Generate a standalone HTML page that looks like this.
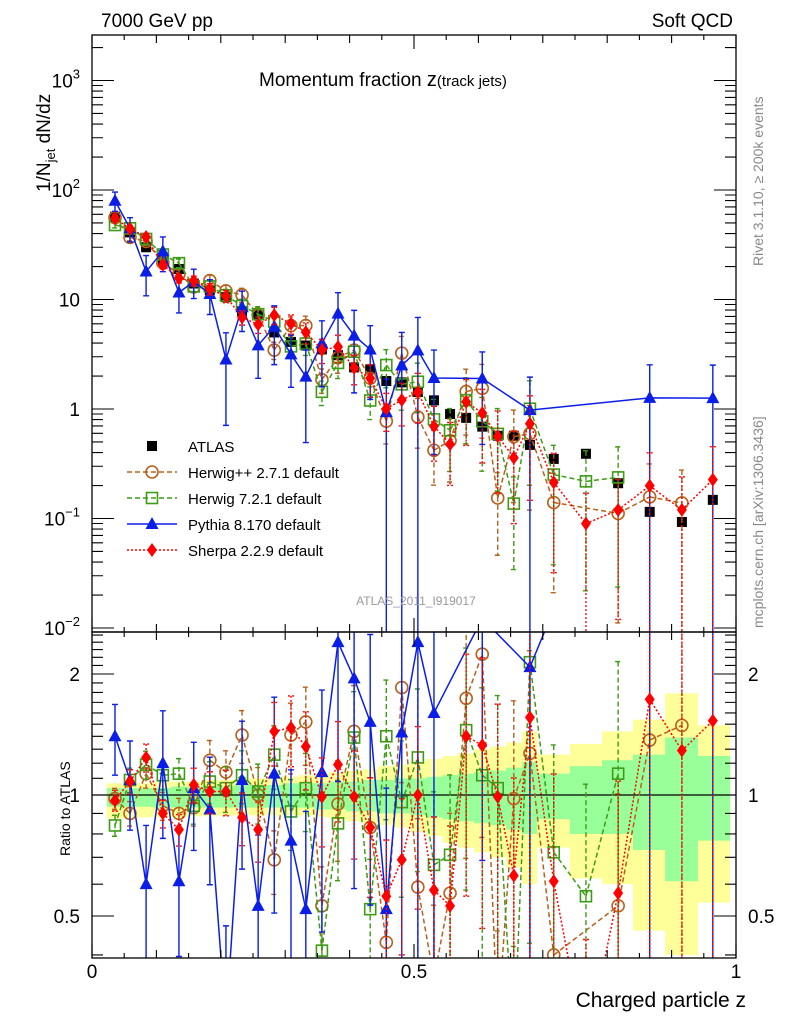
<!DOCTYPE html>
<html><head><meta charset="utf-8">
<style>
html,body{margin:0;padding:0;background:#fff;width:786px;height:1024px;overflow:hidden;}
svg{display:block;font-family:"Liberation Sans",sans-serif;}
</style></head>
<body>
<svg id="chart" width="786" height="1024" viewBox="0 0 786 1024" xmlns="http://www.w3.org/2000/svg" overflow="hidden">
<defs>
<clipPath id="clipMain"><rect x="92" y="35" width="644" height="597"/></clipPath>
<clipPath id="clipRatio"><rect x="92" y="632" width="644" height="326"/></clipPath>
</defs>
<rect x="0" y="0" width="786" height="1024" fill="#fff"/>
<g id="ratioBands" clip-path="url(#clipRatio)"></g>
<g id="mainData" clip-path="url(#clipMain)"></g>
<g id="ratioData" clip-path="url(#clipRatio)"></g>
<g id="axes"></g>
<text x="101" y="27" font-size="19">7000 GeV pp</text>
<text x="733" y="27" font-size="19" text-anchor="end">Soft QCD</text>
<text x="259" y="86" font-size="19">Momentum fraction <tspan font-size="20">z</tspan><tspan font-size="15">(track jets)</tspan></text>
<text transform="translate(50,192) rotate(-90)" font-size="19">1/N<tspan font-size="13" dy="5">jet</tspan><tspan dy="-5"> dN/dz</tspan></text>
<text transform="translate(70,856) rotate(-90)" font-size="14">Ratio to ATLAS</text>
<text x="746" y="1007" font-size="21" text-anchor="end">Charged particle z</text>
<text transform="translate(763,266) rotate(-90)" font-size="14" fill="#888">Rivet 3.1.10, ≥ 200k events</text>
<text transform="translate(763,628) rotate(-90)" font-size="14" fill="#888">mcplots.cern.ch [arXiv:1306.3436]</text>
<text x="416" y="605" font-size="12" fill="#999" text-anchor="middle">ATLAS_2011_I919017</text>
<g id="legend"></g>
</svg>
<script>
const zVals=[0.0357,0.059,0.084,0.110,0.135,0.158,0.183,0.208,0.233,0.258,0.283,0.309,0.332,0.357,0.382,0.407,0.432,0.457,0.481,0.506,0.531,0.556,0.581,0.606,0.630,0.655,0.680,0.717,0.767,0.817,0.866,0.916,0.964];
const binEdges=[0.023,0.048,0.071,0.096,0.123,0.148,0.171,0.196,0.221,0.246,0.271,0.295,0.320,0.345,0.370,0.395,0.420,0.444,0.469,0.494,0.519,0.544,0.568,0.593,0.618,0.643,0.668,0.691,0.742,0.792,0.840,0.890,0.941,0.991];
const atlasVals=[57,41,30,23,19,14,12.2,10.5,7.8,7.2,5.0,4.1,3.8,3.5,3.1,2.4,2.3,1.8,1.75,1.43,1.2,0.9,0.83,0.69,0.57,0.57,0.47,0.35,0.39,0.21,0.115,0.093,0.148];
const herwigppRatio=[0.98,0.90,1.13,0.94,0.90,0.93,1.22,1.14,1.41,1.0,0.69,1.41,1.52,0.53,0.95,1.44,0.83,0.43,1.85,0.59,0.35,0.57,1.74,2.24,0.27,0.98,1.27,0.40,null,0.53,1.37,1.49,null];
const herwig7Ratio=[0.84,1.09,1.19,1.12,1.13,0.94,1.08,1.04,1.12,1.02,1.26,0.91,1.04,0.41,0.85,1.39,0.52,1.40,0.96,1.24,0.67,0.71,1.45,1.12,1.04,0.24,2.14,0.72,0.56,1.13,null,null,null];
const pythiaRatio=[1.40,1.09,0.60,1.20,0.61,1.04,0.92,0.27,1.09,0.53,1.13,0.77,0.52,1.14,2.4,1.95,1.52,0.52,1.43,2.4,1.6,null,null,2.75,null,null,2.08,null,null,null,11,null,8.5];
const sherpaRatio=[0.97,1.08,1.24,0.90,0.82,1.06,1.02,1.02,0.88,0.82,1.44,1.47,1.32,0.99,1.19,0.99,0.83,0.56,0.69,1.0,0.58,0.53,1.40,1.33,0.99,0.63,1.56,0.61,0.23,0.57,1.73,1.29,1.53];
const pythiaErr=[0.2,0.25,0.4,0.35,0.35,0.3,0.35,0.75,0.4,0.5,0.55,0.5,0.75,0.6,0.55,0.7,0.65,1,1,1,0.8,null,null,0.75,null,null,1,null,null,null,1,null,1];
const mcErr=[0.06,0.07,0.08,0.08,0.09,0.1,0.12,0.13,0.15,0.17,0.18,0.2,0.22,0.25,0.28,0.3,0.33,0.38,0.42,0.48,0.52,0.58,0.6,0.65,0.7,0.75,0.8,0.85,0.9,0.9,1,1,1];
const yellowUp=[1.07,1.07,1.07,1.08,1.08,1.08,1.09,1.09,1.10,1.10,1.11,1.11,1.12,1.13,1.14,1.15,1.16,1.18,1.19,1.21,1.23,1.25,1.27,1.30,1.32,1.35,1.44,1.26,1.34,1.44,1.54,1.79,1.49];
const yellowDn=[0.875,0.875,0.88,0.88,0.88,0.885,0.885,0.89,0.89,0.89,0.89,0.89,0.89,0.88,0.87,0.86,0.85,0.84,0.83,0.81,0.79,0.76,0.74,0.72,0.70,0.66,0.60,0.74,0.62,0.60,0.46,0.40,0.54];
const greenUp=[1.04,1.04,1.04,1.04,1.05,1.05,1.05,1.05,1.06,1.06,1.06,1.07,1.07,1.07,1.08,1.08,1.09,1.09,1.10,1.10,1.11,1.12,1.13,1.14,1.15,1.17,1.21,1.13,1.18,1.22,1.26,1.39,1.25];
const greenDn=[0.935,0.935,0.935,0.93,0.93,0.93,0.93,0.93,0.93,0.93,0.93,0.93,0.93,0.92,0.92,0.91,0.91,0.90,0.90,0.89,0.88,0.87,0.86,0.85,0.84,0.82,0.80,0.87,0.80,0.80,0.73,0.61,0.77];
const xTickLabels=["0","0.5","1"];
const xTickValues=[0,0.5,1];
const yTickExp=[-2,-1,0,1,2,3];
const ratioTickValues=[0.5,1,2];
const ratioTickLabels=["0.5","1","2"];

const NS="http://www.w3.org/2000/svg";
const X0=92,X1=736,MT=35,MB=632,RT=632,RB=958;
function X(z){return X0+z*(X1-X0);}
function Y(v){return 409-109.5*Math.log10(v);}
function R(r){return 795-121*Math.log2(r);}
function mk(tag,attrs,parent){const e=document.createElementNS(NS,tag);for(const k in attrs)e.setAttribute(k,attrs[k]);parent.appendChild(e);return e;}

// clip a polyline to a y-range [ylo,yhi], returning path data
function clipPoly(pts,ylo,yhi){
  let d="";
  for(let i=0;i+1<pts.length;i++){
    let [x1,y1]=pts[i],[x2,y2]=pts[i+1];
    const lerp=(yt)=>x1+(x2-x1)*(yt-y1)/(y2-y1);
    if((y1<ylo&&y2<ylo)||(y1>yhi&&y2>yhi)) continue;
    let ax=x1,ay=y1,bx=x2,by=y2;
    if(ay<ylo){ax=lerp(ylo);ay=ylo;} else if(ay>yhi){ax=lerp(yhi);ay=yhi;}
    if(by<ylo){bx=lerp(ylo);by=ylo;} else if(by>yhi){bx=lerp(yhi);by=yhi;}
    d+=`M${ax},${ay}L${bx},${by}`;
  }
  return d||"M0,0";
}

const mainG=document.getElementById('mainData');
const ratioG=document.getElementById('ratioData');
const bandG=document.getElementById('ratioBands');
const axesG=document.getElementById('axes');
const legG=document.getElementById('legend');

function band(up,dn,color,name){
  let d="";
  for(let i=0;i<zVals.length;i++){
    const x0=X(binEdges[i]),x1=X(binEdges[i+1]);
    d+=`M${x0},${Math.max(RT,R(up[i]))}H${x1}V${Math.min(RB,R(dn[i]))}H${x0}Z`;
  }
  const p=mk('path',{d:d,fill:color,stroke:'none'},bandG);
  
  
}
band(yellowUp,yellowDn,'#ffff99','total-uncertainty-band');
band(greenUp,greenDn,'#99ff99','stat-uncertainty-band');
const unity=mk('line',{x1:X0,x2:X1,y1:R(1),y2:R(1),stroke:'#000','stroke-width':1.3},ratioG);



function marker(g,type,x,y,color){
  let e;
  if(type==='square'){e=mk('rect',{x:x-5,y:y-5,width:10,height:10,fill:color},g);}
  else if(type==='osquare'){e=mk('rect',{x:x-5.5,y:y-5.5,width:11,height:11,fill:'none',stroke:color,'stroke-width':1.6},g);}
  else if(type==='circle'){e=mk('circle',{cx:x,cy:y,r:6,fill:'none',stroke:color,'stroke-width':1.6},g);}
  else if(type==='tri'){e=mk('path',{d:`M${x},${y-7}L${x+6.5},${y+5}L${x-6.5},${y+5}Z`,fill:color},g);}
  else {e=mk('path',{d:`M${x},${y-7}L${x+5},${y}L${x},${y+7}L${x-5},${y}Z`,fill:color},g);}
  return e;
}

function drawSeries(ratios,errs,color,dash,type,name){
  const gm=mk('g',{},mainG);
  
  
  const gr=mk('g',{},ratioG);
  
  
  const pm=[],pr=[];
  for(let i=0;i<zVals.length;i++){
    const r=ratios[i]; if(r===null||r===undefined) continue;
    const v=r*atlasVals[i], x=X(zVals[i]);
    pm.push([x,Y(v)]); pr.push([x,R(r)]);
  }
  const lm=mk('path',{d:clipPoly(pm,MT-10,MB+10),fill:'none',stroke:color,'stroke-width':1.5,'stroke-dasharray':dash},gm);
  
  
  const lr=mk('path',{d:clipPoly(pr,RT-10,RB+10),fill:'none',stroke:color,'stroke-width':1.5,'stroke-dasharray':dash},gr);
  
  
  for(let i=0;i<zVals.length;i++){
    const r=ratios[i]; if(r===null||r===undefined) continue;
    const v=r*atlasVals[i], x=X(zVals[i]), e=errs[i];
    const lo=1-e, hi=1+e;
    const clampM=y=>Math.max(MT-5,Math.min(MB+5,y));
    const clampR=y=>Math.max(RT-5,Math.min(RB+5,y));
    const ym1=clampM(Y(v*hi)), ym2= lo>0.001? clampM(Y(v*lo)):MB+5;
    const yr1=clampR(R(r*hi)), yr2= lo>0.001? clampR(R(r*lo)):RB+5;
    const eb=mk('path',{d:`M${x},${ym1}V${ym2}M${x-3},${ym1}H${x+3}M${x-3},${ym2}H${x+3}`,stroke:color,'stroke-width':1.4,fill:'none','stroke-dasharray':dash},gm);
    
    
    const ebr=mk('path',{d:`M${x},${yr1}V${yr2}M${x-3},${yr1}H${x+3}M${x-3},${yr2}H${x+3}`,stroke:color,'stroke-width':1.4,fill:'none','stroke-dasharray':dash},gr);
    
    
    const ymv=Y(v);
    if(ymv>MT-10&&ymv<MB+10){
      const m1=marker(gm,type,x,ymv,color);
      
      
    }
    const yrv=R(r);
    if(yrv>RT-10&&yrv<RB+10){
      const m2=marker(gr,type,x,yrv,color);
      
      
    }
  }
}

for(let i=0;i<zVals.length;i++){
  const m=marker(mainG,'square',X(zVals[i]),Y(atlasVals[i]),'#000');
  
  
}
drawSeries(herwigppRatio,mcErr,'#b8601a','5,3','circle','herwigpp');
drawSeries(herwig7Ratio,mcErr,'#3c9c14','5,3','osquare','herwig7');
drawSeries(pythiaRatio,pythiaErr,'#0a1ee8','','tri','pythia');
drawSeries(sherpaRatio,mcErr,'#ff0000','2,2','diamond','sherpa');

const f1=mk('rect',{x:X0,y:MT,width:X1-X0,height:MB-MT,fill:'none',stroke:'#000','stroke-width':1.3},axesG);


const f2=mk('rect',{x:X0,y:RT,width:X1-X0,height:RB-RT,fill:'none',stroke:'#000','stroke-width':1.3},axesG);



let td="";
for(let k=0;k<=20;k++){
  const z=k*0.05, x=X(z);
  const len=(k%10===0)?14:(k%2===0?8:5);
  td+=`M${x},${MT}v${len}M${x},${RT}v-${len}M${x},${RT}v${len}M${x},${RB}v-${len}`;
}
for(let e=-3;e<=3;e++){
  for(let m=1;m<=9;m++){
    const v=m*Math.pow(10,e), y=Y(v);
    if(y<MT||y>MB) continue;
    const len=m===1?22:11;
    td+=`M${X0},${y}h${len}M${X1},${y}h-${len}`;
  }
}
const rT=[0.4,0.5,0.6,0.7,0.8,0.9,1,1.1,1.2,1.3,1.4,1.5,1.6,1.7,1.8,1.9,2,2.1,2.2,2.3,2.4,2.5];
rT.forEach(r=>{const y=R(r); if(y<RT||y>RB) return; const len=(r===0.5||r===1||r===2)?22:11; td+=`M${X0},${y}h${len}M${X1},${y}h-${len}`;});
const ticks=mk('path',{d:td,stroke:'#000','stroke-width':1.1,fill:'none'},axesG);



xTickValues.forEach((z,i)=>{
  const t=mk('text',{x:X(z),y:978,'font-size':19,'text-anchor':'middle'},axesG);
  t.textContent=xTickLabels[i];
  
  
});
yTickExp.forEach(e=>{
  const y=Y(Math.pow(10,e));
  const t=mk('text',{x:80,y:y+7,'font-size':19,'text-anchor':'end'},axesG);
  if(e===0) t.textContent="1";
  else if(e===1) t.textContent="10";
  else { t.textContent="10"; const s=mk('tspan',{dy:-9,'font-size':13},t); s.textContent=String(e).replace('-','−'); }
  
  
});
ratioTickValues.forEach((r,i)=>{
  const y=R(r);
  const t=mk('text',{x:80,y:y+7,'font-size':19,'text-anchor':'end'},axesG);
  t.textContent=ratioTickLabels[i];
  
  
  const t2=mk('text',{x:748,y:y+7,'font-size':19,'text-anchor':'start'},axesG);
  t2.textContent=ratioTickLabels[i];
  
  
});

const legendLabels=["ATLAS","Herwig++ 2.7.1 default","Herwig 7.2.1 default","Pythia 8.170 default","Sherpa 2.2.9 default"];
const legendColors=['#000','#b8601a','#3c9c14','#0a1ee8','#ff0000'];
const legendTypes=['square','circle','osquare','tri','diamond'];
const legendDash=[null,'5,3','5,3','','2,2'];
legendLabels.forEach((lab,i)=>{
  const y=446+i*26;
  const g=mk('g',{},legG);
  
  
  if(legendDash[i]!==null){
    const l=mk('line',{x1:127,x2:177,y1:y,y2:y,stroke:legendColors[i],'stroke-width':1.5,'stroke-dasharray':legendDash[i]},g);
    
    
  }
  const m=marker(g,legendTypes[i],152,y,legendColors[i]);
  
  
  const t=mk('text',{x:188,y:y+6,'font-size':15},g);
  t.textContent=lab;
  
  
});
</script>
</body></html>
